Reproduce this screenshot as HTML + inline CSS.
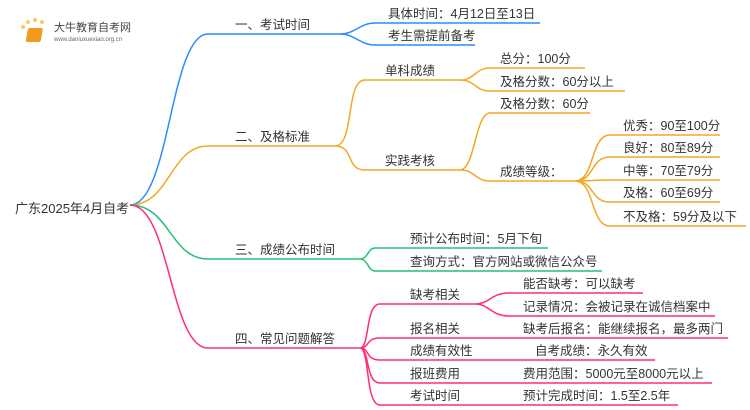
<!DOCTYPE html>
<html><head><meta charset="utf-8"><style>
body{margin:0;background:#fff}
svg{display:block}
text{font-family:"Liberation Sans","Noto Sans CJK SC",sans-serif;font-size:12.5px;fill:#333}
</style></head><body>
<svg width="750" height="410" viewBox="0 0 750 410" xmlns="http://www.w3.org/2000/svg">
<g>
<circle cx="23" cy="27" r="2" fill="#f9c86a"/><circle cx="28" cy="22" r="2" fill="#f9c86a"/><circle cx="35" cy="20" r="2" fill="#f9c86a"/><circle cx="42" cy="22" r="2" fill="#f9c86a"/>
<rect x="33" y="28" width="15" height="14" rx="2" fill="#f39a1e" transform="skewX(-10)"/>
<text x="54" y="31" style="font-size:11px;fill:#444">大牛教育自考网</text>
<text x="54" y="41" style="font-size:6px;fill:#666">www.daniuxuexiao.org.cn</text>
</g>
<text x="15" y="213" style="font-size:13px">广东2025年4月自考</text>
<g fill="none" stroke-width="1.5">
<path d="M130 205 C170 205,170 34,208 34 L340 34" stroke="#2a8cff"/>
<path d="M340 34 C355 34,360 23,375 23 L540 23 M340 34 C355 34,360 45,375 45 L475 45" stroke="#2a8cff"/>
<path d="M130 205 C170 205,170 146,208 146 L335 146" stroke="#f5a623"/>
<path d="M335 146 C355 146,345 80,365 80 L460 80 M335 146 C355 146,345 170,365 170 L460 170" stroke="#f5a623"/>
<path d="M460 80 C475 80,475 68,490 68 L585 68 M460 80 C475 80,475 91,490 91 L625 91" stroke="#f5a623"/>
<path d="M460 170 C475 170,475 113,490 113 L590 113 M460 170 C475 170,475 181,490 181 L575 181" stroke="#f5a623"/>
<path d="M575 181 C595 181,590 135,610 135 L720 135 M575 181 C595 181,590 157,610 157 L720 157 M575 181 C595 181,590 180,610 180 L720 180 M575 181 C595 181,590 202,610 202 L720 202 M575 181 C595 181,590 226,610 226 L746 226" stroke="#f5a623"/>
<path d="M130 205 C170 205,170 259,208 259 L360 259" stroke="#27c07a"/>
<path d="M360 259 C368 259,368 248,375 248 L548 248 M360 259 C368 259,368 271,375 271 L602 271" stroke="#27c07a"/>
<path d="M130 205 C170 205,170 348,208 348 L360 348" stroke="#ff2d7a"/>
<path d="M360 348 C370 348,365 304,380 304 L475 304 M360 348 C370 348,365 338,380 338 L728 338 M360 348 C370 348,365 360,380 360 L655 360 M360 348 C370 348,365 383,380 383 L712 383 M360 348 C370 348,365 405,380 405 L678 405" stroke="#ff2d7a"/>
<path d="M475 304 C490 304,490 293,510 293 L643 293 M475 304 C490 304,490 316,510 316 L715 316" stroke="#ff2d7a"/>
</g>
<text x="235" y="29">一、考试时间</text>
<text x="388" y="18">具体时间：4月12日至13日</text>
<text x="388" y="40">考生需提前备考</text>
<text x="235" y="141">二、及格标准</text>
<text x="385" y="75">单科成绩</text>
<text x="385" y="165">实践考核</text>
<text x="500" y="63">总分：100分</text>
<text x="500" y="86">及格分数：60分以上</text>
<text x="500" y="108">及格分数：60分</text>
<text x="500" y="176">成绩等级：</text>
<text x="623" y="130">优秀：90至100分</text>
<text x="623" y="152">良好：80至89分</text>
<text x="623" y="175">中等：70至79分</text>
<text x="623" y="197">及格：60至69分</text>
<text x="623" y="221">不及格：59分及以下</text>
<text x="235" y="254">三、成绩公布时间</text>
<text x="410" y="243">预计公布时间：5月下旬</text>
<text x="410" y="266">查询方式：官方网站或微信公众号</text>
<text x="235" y="343">四、常见问题解答</text>
<text x="410" y="299">缺考相关</text>
<text x="410" y="333">报名相关</text>
<text x="410" y="355">成绩有效性</text>
<text x="410" y="378">报班费用</text>
<text x="410" y="400">考试时间</text>
<text x="523" y="288">能否缺考：可以缺考</text>
<text x="523" y="311">记录情况：会被记录在诚信档案中</text>
<text x="523" y="333">缺考后报名：能继续报名，最多两门</text>
<text x="535" y="355">自考成绩：永久有效</text>
<text x="523" y="378">费用范围：5000元至8000元以上</text>
<text x="523" y="400">预计完成时间：1.5至2.5年</text>
</svg>
</body></html>
